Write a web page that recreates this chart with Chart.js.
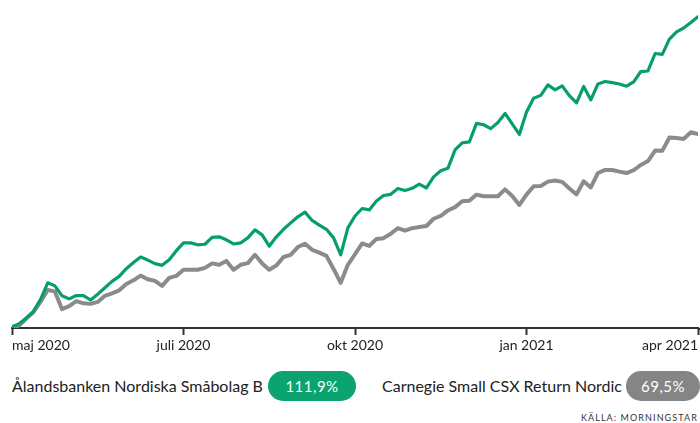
<!DOCTYPE html>
<html>
<head>
<meta charset="utf-8">
<script src="https://cdn.jsdelivr.net/npm/chart.js@4.4.1/dist/chart.umd.min.js"></script>
<style>
  html, body { margin: 0; padding: 0; background: #fff; }
  #wrap { position: relative; width: 700px; height: 423px; overflow: hidden; font-family: Lato, "Open Sans", sans-serif; color: #222; }
  #chartBox { position: absolute; left: 0; top: 0; width: 700px; height: 360px; }
  .lbl { position: absolute; top: 371px; height: 30px; line-height: 30px; font-size: 16px; white-space: nowrap; color: #222; }
  .pill { position: absolute; top: 371px; height: 30px; line-height: 30px; border-radius: 15px; color: #fff; font-size: 15px; text-align: center; letter-spacing: 0.5px; }
  #src { position: absolute; right: 2px; top: 412px; font-size: 9px; letter-spacing: 1.1px; color: #333; }
</style>
</head>
<body>
<div id="wrap">
  <div id="chartBox"><canvas id="c" width="700" height="360"></canvas></div>
  <div class="lbl" style="left:12px;">Ålandsbanken Nordiska Småbolag B</div>
  <div class="pill" style="left:268px;width:88px;background:#0ba36e;">111,9%</div>
  <div class="lbl" style="left:382px;">Carnegie Small CSX Return Nordic</div>
  <div class="pill" style="left:626px;width:74px;background:#858587;">69,5%</div>
  <div id="src">KÄLLA: MORNINGSTAR</div>
</div>
<script>
const tickLabels = ['maj 2020', 'juli 2020', 'okt 2020', 'jan 2021', 'apr 2021'];
const pointsPerTick = 24;

const seriesNames = ['Ålandsbanken Nordiska Småbolag B', 'Carnegie Small CSX Return Nordic'];

const green = [0,1.1,3.2,5.6,9.9,15.9,14.8,11.2,10.1,11.3,
  11.3,9.7,11.8,14.1,16.4,18.2,21.0,23.2,25.2,24.1,
  22.8,22.2,24.2,27.5,30.3,30.3,29.6,29.8,32.3,32.5,
  31.4,29.9,30.3,32.1,35.0,33.2,29.1,32.5,35.2,37.5,
  39.7,41.4,38.4,36.7,35.2,32.1,26.0,35.7,40.0,42.7,
  42.2,45.4,47.4,47.8,49.9,49.2,50.0,51.5,50.1,54.1,
  56.3,57.2,63.8,66.4,66.7,73.4,72.9,71.5,73.7,77.0,
  73.2,69.4,77.5,82.5,83.5,87.3,85.5,86.9,83.4,80.8,
  86.7,81.9,87.6,88.5,88.1,87.6,86.8,88.4,92.1,92.3,
  98.6,98.3,103.8,106.4,107.8,109.8,111.9];

const gray = [0,0.5,3.0,5.3,9.1,13.3,12.8,6.4,7.5,9.3,
  8.5,8.3,9.0,11.2,12.1,13.2,15.5,16.8,18.5,17.2,
  16.6,14.8,17.7,18.4,20.6,20.6,20.6,21.3,22.9,22.4,
  23.8,20.6,22.4,23.0,26.0,22.9,20.6,22.2,25.2,26.0,
  28.8,30.0,27.8,26.8,25.6,20.9,15.9,22.4,26.2,30.1,
  29.2,31.7,32.0,33.6,35.6,34.7,35.6,36.0,36.4,39.0,
  40.0,42.0,43.2,45.3,45.5,47.7,47.1,47.1,47.1,49.6,
  47.2,44.0,47.7,50.7,50.8,52.4,52.8,52.3,49.9,47.8,
  52.5,50.3,55.5,56.6,56.6,56.0,55.5,56.5,58.4,59.8,
  63.6,63.5,68.3,68.1,67.8,70.2,69.5];

const toXY = arr => arr.map((v, i) => ({ x: i, y: v }));

const extendAxis = {
  id: 'extendAxis',
  afterDraw(chart) {
    const { ctx, chartArea } = chart;
    ctx.save();
    ctx.strokeStyle = '#333';
    ctx.lineWidth = 2;
    ctx.beginPath();
    ctx.moveTo(chartArea.right, chartArea.bottom + 1);
    ctx.lineTo(chart.width, chartArea.bottom + 1);
    ctx.stroke();
    ctx.restore();
  }
};

new Chart(document.getElementById('c'), {
  type: 'line',
  data: {
    datasets: [
      { label: seriesNames[0], data: toXY(green), borderColor: '#079e6b', borderWidth: 3.2,
        pointRadius: 0, tension: 0, borderJoinStyle: 'round', borderCapStyle: 'round' },
      { label: seriesNames[1], data: toXY(gray), borderColor: '#8b8b8d', borderWidth: 4,
        pointRadius: 0, tension: 0, borderJoinStyle: 'round', borderCapStyle: 'round' }
    ]
  },
  options: {
    responsive: false,
    devicePixelRatio: 1,
    animation: false,
    layout: { padding: { left: 12, right: 2, top: 0, bottom: 0 } },
    plugins: { legend: { display: false }, tooltip: { enabled: false } },
    scales: {
      x: {
        type: 'linear',
        min: 0,
        max: pointsPerTick * (tickLabels.length - 1),
        afterFit(scale) { scale.height = 32; },
        ticks: {
          stepSize: pointsPerTick,
          autoSkip: false,
          maxRotation: 0,
          align: 'inner',
          padding: 2,
          color: '#222',
          font: { family: 'Lato', size: 14 },
          callback: v => tickLabels[Math.round(v / pointsPerTick)] || ''
        },
        grid: { drawOnChartArea: false, drawTicks: true, tickLength: 7, tickColor: '#333', tickWidth: 2 },
        border: { display: true, color: '#333', width: 2 }
      },
      y: {
        display: false,
        min: -0.4,
        max: 117.9
      }
    }
  },
  plugins: [extendAxis]
});
</script>
</body>
</html>
